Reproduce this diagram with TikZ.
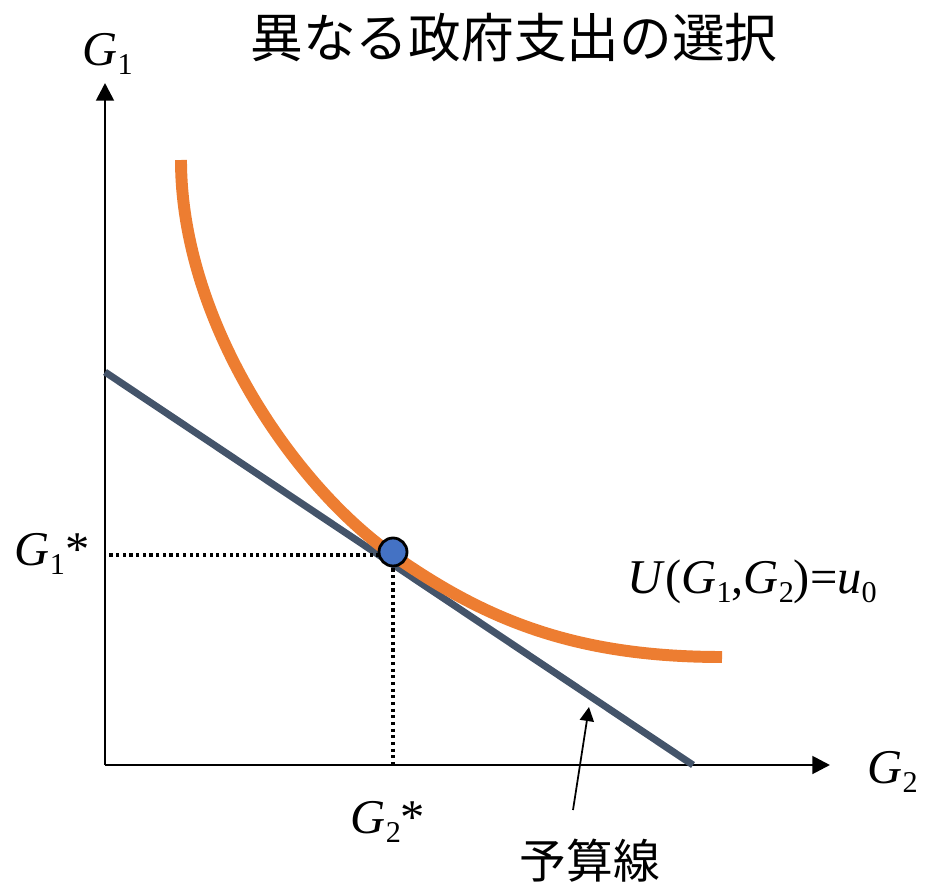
\documentclass[tikz,border=0pt]{standalone}
\usepackage{fontspec}
\setmainfont{Liberation Serif}
\newfontfamily\cjk{Noto Sans CJK JP}
\usetikzlibrary{arrows.meta}

\definecolor{curveorange}{HTML}{ED7D31}
\definecolor{budgetgray}{HTML}{44546A}
\definecolor{dotblue}{HTML}{4472C4}

\newcommand{\lowsub}[1]{\raisebox{-0.2em}{\fontsize{8.6}{10}\selectfont #1}}
\newcommand{\Gsub}[1]{\textit{G}\lowsub{#1}}

\tikzset{
    axis/.style={line width=0.8pt, -{Triangle[length=5pt, width=5pt]}},
    lbl/.style={font=\fontsize{13.8}{16}\selectfont, inner sep=0pt},
    jlbl/.style={font=\cjk\fontsize{13.3}{16}\selectfont, inner sep=0pt},
    indiff/.style={curveorange, line width=3.4pt},
    budget/.style={budgetgray, line width=2pt},
    guide/.style={line width=1pt, dash pattern=on 0.9pt off 1.0pt},
    optdot/.style={circle, draw=black, line width=0.8pt, fill=dotblue, minimum size=0.28cm, inner sep=0pt},
    pointer/.style={line width=0.5pt, -{Triangle[length=4pt, width=4pt]}}
}

\begin{document}
\begin{tikzpicture}
    \useasboundingbox (0,0) rectangle (9.26,8.88);

    % Title
    \node[jlbl, font=\cjk\fontsize{15}{18}\selectfont] (title) at (5.14,8.50) {異なる政府支出の選択};

    % Axes
    \coordinate (O) at (1.05,1.23);
    \coordinate (ytip) at (1.05,8.05);
    \coordinate (xtip) at (8.30,1.23);
    \draw[axis] (O) -- (ytip);
    \draw[axis] (O) -- (xtip);
    \node[lbl, anchor=base west] (ylab) at (0.82,8.23) {\Gsub{1}};
    \node[lbl, anchor=base west] (xlab) at (8.67,1.05) {\Gsub{2}};

    % Budget line
    \coordinate (bA) at (1.05,5.16);
    \coordinate (bB) at (6.93,1.23);
    \draw[budget] (bA) -- (bB);

    % Indifference curve, two pieces meeting at the optimum
    \coordinate (E) at (3.93,3.33);
    \draw[indiff] (1.81,7.28) .. controls (1.81,5.68) and (2.93,4.03) .. (E)
        .. controls (4.83,2.70) and (5.72,2.31) .. (7.22,2.31);

    % Optimum and guides
    \draw[guide] (E) -- (E -| O);
    \draw[guide] (E) -- (E |- O);
    \node[optdot] (opt) at (3.93,3.36) {};
    \node[lbl, anchor=base east] (g1star) at (0.90,3.23) {\Gsub{1}*};
    \node[lbl, anchor=base] (g2star) at (3.88,0.55) {\Gsub{2}*};

    % Labels
    \node[lbl, anchor=base west] (ulab) at (6.27,2.95) {\textit{U}(\Gsub{1},\Gsub{2})=\textit{u}\lowsub{0}};
    \node[jlbl] (yosan) at (5.90,0.27) {予算線};
    \coordinate (ptail) at (5.73,0.78);
    \coordinate (phead) at (5.89,1.81);
    \draw[pointer] (ptail) -- (phead);
\end{tikzpicture}
\end{document}
